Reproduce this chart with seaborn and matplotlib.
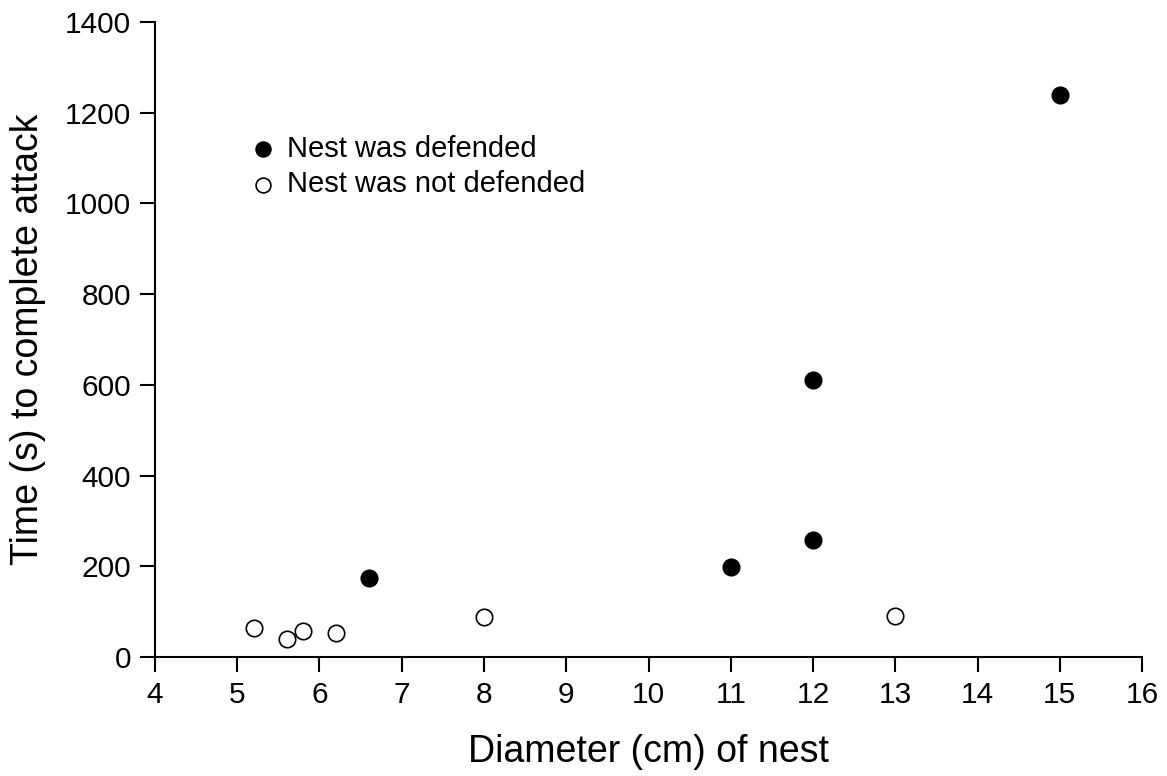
import matplotlib
matplotlib.use("Agg")
import matplotlib.pyplot as plt
import seaborn as sns
import pandas as pd

# Data
defended_x = [6.6, 11, 12, 12, 15]
defended_y = [174, 198, 257, 610, 1240]
undefended_x = [5.2, 5.6, 5.8, 6.2, 8, 13]
undefended_y = [64, 40, 57, 53, 88, 90]
x_ticks = list(range(4, 17))
y_ticks = list(range(0, 1401, 200))

sns.set_theme(style="ticks")
plt.rcParams['font.family'] = ['Liberation Sans', 'DejaVu Sans']
plt.rcParams['text.color'] = 'black'
plt.rcParams['axes.labelcolor'] = 'black'

df_def = pd.DataFrame({"x": defended_x, "y": defended_y})
df_und = pd.DataFrame({"x": undefended_x, "y": undefended_y})

fig = plt.figure(figsize=(11.67, 7.76), dpi=100)
ax = fig.add_axes([0.1328, 0.1534, 0.9786 - 0.1328, 0.9716 - 0.1534])

sns.scatterplot(data=df_def, x="x", y="y", ax=ax, s=140, color="black",
                edgecolor="black", linewidth=1.2, label="Nest was defended", zorder=3)
sns.scatterplot(data=df_und, x="x", y="y", ax=ax, s=140, facecolor="white",
                edgecolor="black", linewidth=1.2, label="Nest was not defended", zorder=3)

ax.set_xlim(4, 16)
ax.set_ylim(0, 1400)
ax.set_xticks(x_ticks)
ax.set_yticks(y_ticks)
ax.tick_params(axis="both", direction="out", length=11, width=1.5, labelsize=21.5,
               color="black", labelcolor="black", pad=6)
for s in ["top", "right"]:
    ax.spines[s].set_visible(False)
for s in ["left", "bottom"]:
    ax.spines[s].set_linewidth(1.5)
    ax.spines[s].set_color("black")

ax.set_xlabel("Diameter (cm) of nest", fontsize=27, labelpad=18, color="black")
ax.set_ylabel("Time (s) to complete attack", fontsize=27, labelpad=14, color="black")

leg = ax.legend(loc="upper left", bbox_to_anchor=(0.098, 0.822), frameon=False,
                fontsize=21, handletextpad=0.4, handlelength=0.8, labelspacing=0.25,
                markerscale=0.9, borderaxespad=0, borderpad=0)
for t in leg.get_texts():
    t.set_color("black")

fig.savefig("out.png", dpi=100)
